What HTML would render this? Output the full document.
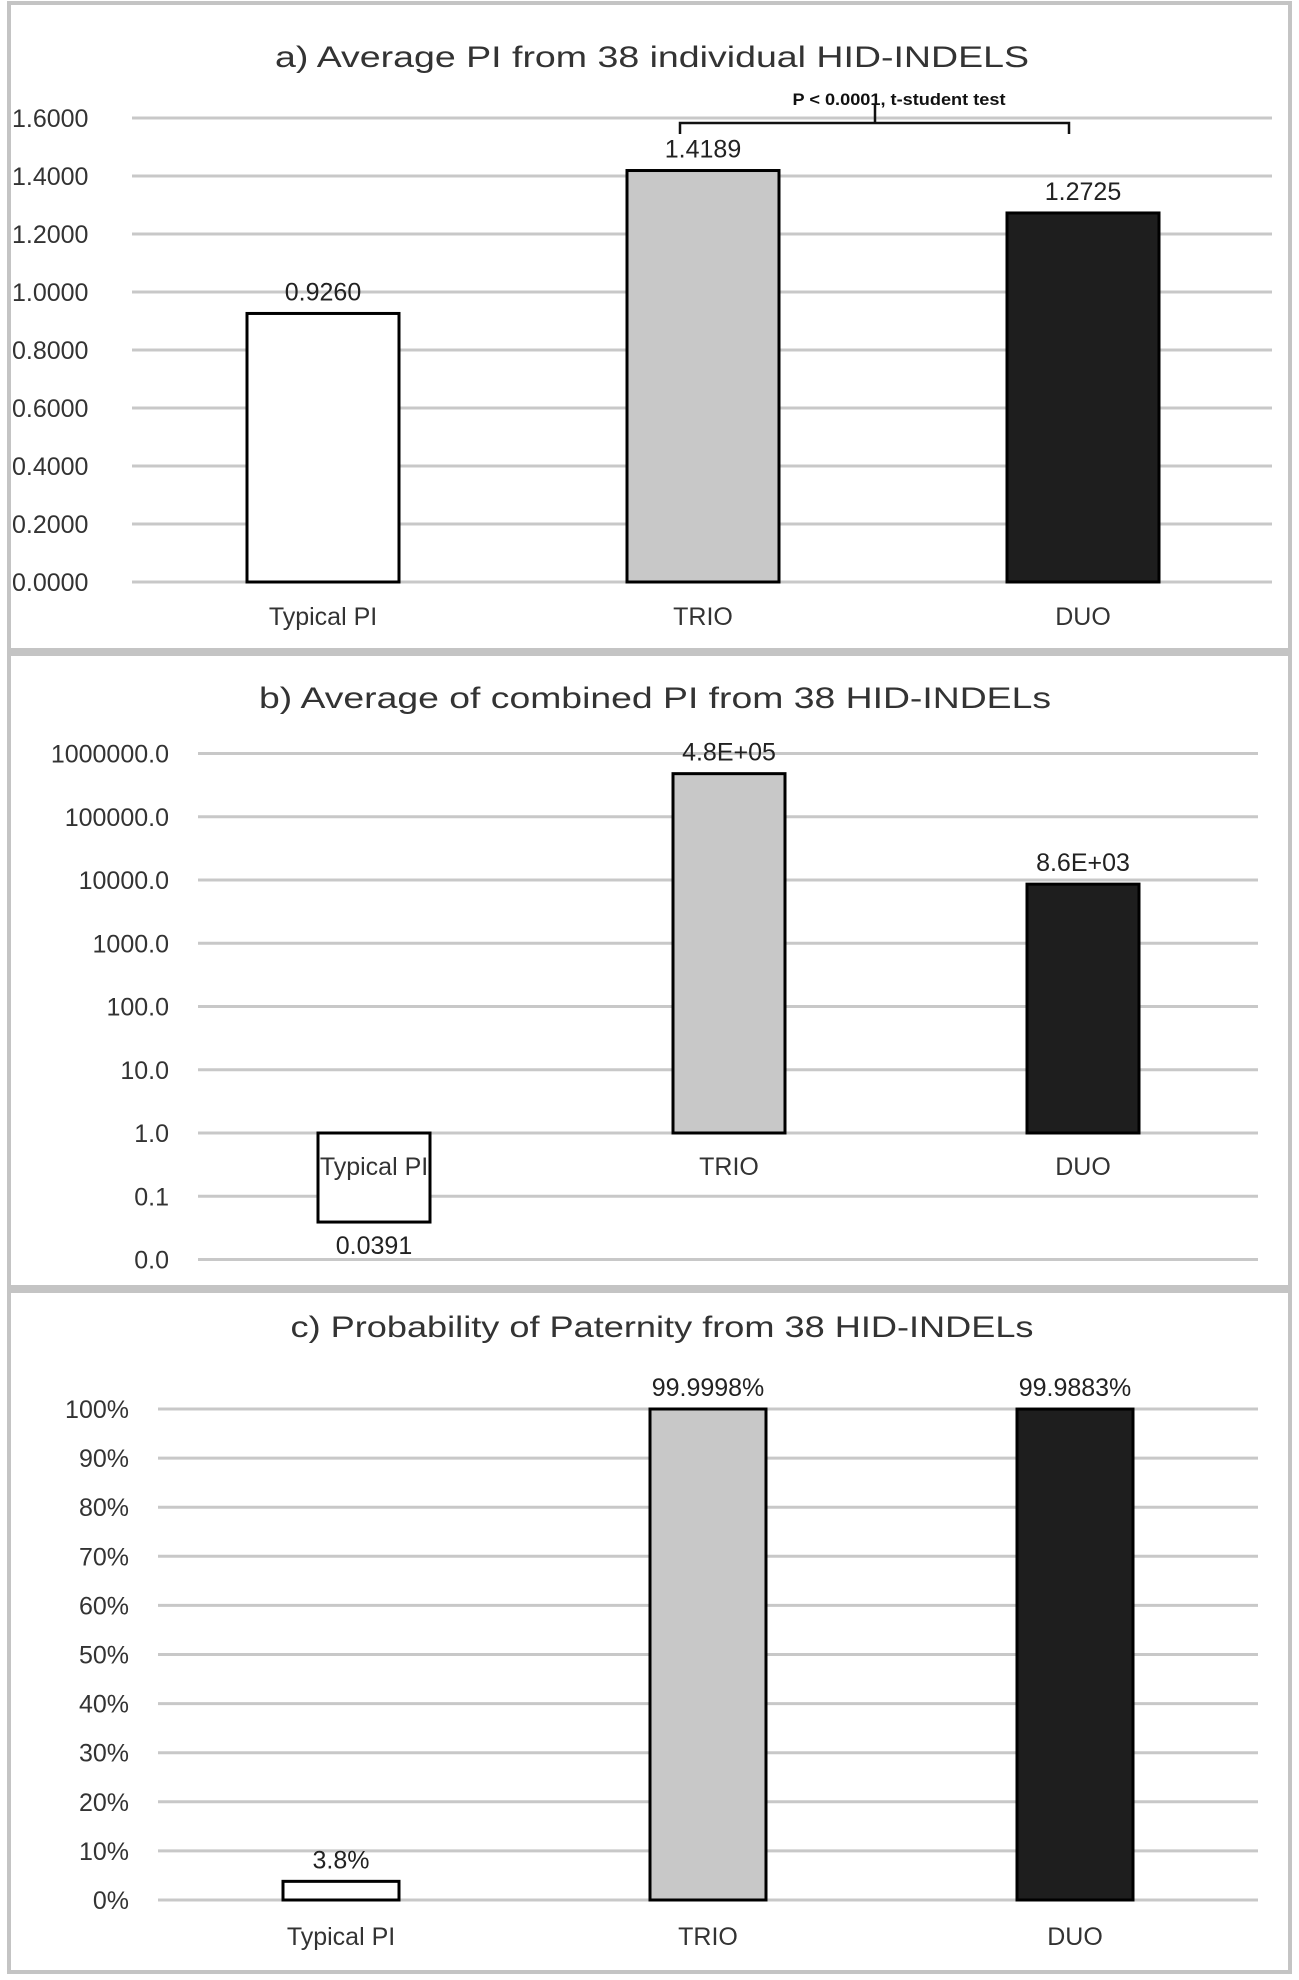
<!DOCTYPE html>
<html><head><meta charset="utf-8"><style>
html,body{margin:0;padding:0;background:#fff;}
svg{display:block;font-family:"Liberation Sans",sans-serif;}
</style></head><body>
<svg id="fig" width="1299" height="1980" viewBox="0 0 1299 1980">
<rect x="9" y="3" width="1281" height="647" fill="#fff" stroke="#c4c4c4" stroke-width="4"/>
<rect x="9" y="654" width="1281" height="633" fill="#fff" stroke="#c4c4c4" stroke-width="4"/>
<rect x="9" y="1291" width="1281" height="681" fill="#fff" stroke="#c4c4c4" stroke-width="4"/>
<text x="652" y="67" font-size="30" text-anchor="middle" fill="#333" textLength="754" lengthAdjust="spacingAndGlyphs">a) Average PI from 38 individual HID-INDELS</text>
<text x="655" y="708" font-size="30" text-anchor="middle" fill="#333" textLength="792" lengthAdjust="spacingAndGlyphs">b) Average of combined PI from 38 HID-INDELs</text>
<text x="662" y="1337" font-size="30" text-anchor="middle" fill="#333" textLength="743" lengthAdjust="spacingAndGlyphs">c) Probability of Paternity from 38 HID-INDELs</text>
<g id="ga"></g>
<g id="gb"></g>
<g id="gc"></g>
<g>
<path d="M680 134 V123 H1069 V134 M875 123 V105" fill="none" stroke="#111" stroke-width="2.5"/>
<text x="899" y="105" font-size="17" font-weight="bold" text-anchor="middle" fill="#111" textLength="213" lengthAdjust="spacingAndGlyphs">P &lt; 0.0001, t-student test</text>
</g>
</svg>
<script>
const categories = ["Typical PI", "TRIO", "DUO"];
const fills = ["#ffffff", "#c8c8c8", "#1e1e1e"];
const valuesA = [0.9260, 1.4189, 1.2725];
const labelsA = ["0.9260", "1.4189", "1.2725"];
const ticksA = [0, 0.2, 0.4, 0.6, 0.8, 1.0, 1.2, 1.4, 1.6];
const tickLabelsA = ["0.0000","0.2000","0.4000","0.6000","0.8000","1.0000","1.2000","1.4000","1.6000"];
const valuesB = [0.0391, 480000, 8600];
const labelsB = ["0.0391", "4.8E+05", "8.6E+03"];
const ticksB = [0.01, 0.1, 1, 10, 100, 1000, 10000, 100000, 1000000];
const tickLabelsB = ["0.0","0.1","1.0","10.0","100.0","1000.0","10000.0","100000.0","1000000.0"];
const valuesC = [3.8, 99.9998, 99.9883];
const labelsC = ["3.8%", "99.9998%", "99.9883%"];
const ticksC = [0,10,20,30,40,50,60,70,80,90,100];
const tickLabelsC = ["0%","10%","20%","30%","40%","50%","60%","70%","80%","90%","100%"];

const NS = "http://www.w3.org/2000/svg";
function mk(parent, tag, attrs, text) {
  const e = document.createElementNS(NS, tag);
  for (const k in attrs) e.setAttribute(k, attrs[k]);
  if (text !== undefined) e.textContent = text;
  parent.appendChild(e);
  return e;
}
function drawPanel(cfg) {
  const g = document.getElementById(cfg.id);
  const y = cfg.y;
  cfg.ticks.forEach((t, i) => {
    const ln = mk(g, "line", {x1: cfg.gx0, x2: cfg.gx1, y1: y(t), y2: y(t), stroke: "#c8c8c8", "stroke-width": 3});
    
    
    const tx = mk(g, "text", {x: cfg.lx, y: y(t) + 9, "font-size": 25, "text-anchor": cfg.anchor, fill: "#333"}, cfg.tickLabels[i]);
    
    
  });
  const y0 = y(cfg.base);
  categories.forEach((c, i) => {
    const x0 = cfg.barX[i], w = cfg.barW;
    const v = cfg.values[i];
    const yt = y(v);
    const top = Math.min(yt, y0), h = Math.abs(y0 - yt);
    const r = mk(g, "rect", {x: x0, y: top, width: w, height: h, fill: fills[i], stroke: "#000", "stroke-width": 3});
    
    
    const ly = yt >= y0 ? yt + 32 : yt - 13;
    const vl = mk(g, "text", {x: x0 + w / 2, y: ly, "font-size": 25, "text-anchor": "middle", fill: "#222"}, cfg.labels[i]);
    
    
    const cl = mk(g, "text", {x: x0 + w / 2, y: cfg.catY, "font-size": 25, "text-anchor": "middle", fill: "#333"}, c);
    
    
  });
}
drawPanel({id: "ga", ticks: ticksA, tickLabels: tickLabelsA, values: valuesA, labels: labelsA,
  y: v => 582 - v * 290, base: 0, gx0: 132, gx1: 1272, lx: 12, anchor: "start",
  barX: [247, 627, 1007], barW: 152, catY: 625});
drawPanel({id: "gb", ticks: ticksB, tickLabels: tickLabelsB, values: valuesB, labels: labelsB,
  y: v => 1133 - Math.log10(v) * 63.25, base: 1, gx0: 198, gx1: 1258, lx: 169, anchor: "end",
  barX: [318, 673, 1027], barW: 112, catY: 1175});
drawPanel({id: "gc", ticks: ticksC, tickLabels: tickLabelsC, values: valuesC, labels: labelsC,
  y: v => 1900 - v * 4.91, base: 0, gx0: 158, gx1: 1258, lx: 129, anchor: "end",
  barX: [283, 650, 1017], barW: 116, catY: 1945});
</script>
</body></html>
